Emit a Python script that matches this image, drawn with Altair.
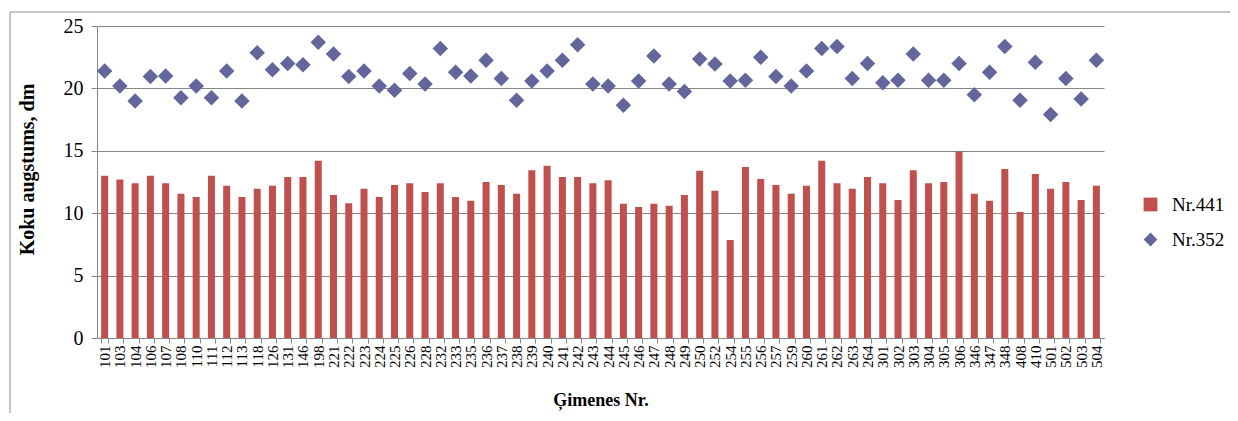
import altair as alt
import pandas as pd

families = ["101", "103", "104", "106", "107", "108", "110", "111", "112", "113",
            "118", "126", "131", "146", "198", "221", "222", "223", "224", "225",
            "226", "228", "232", "233", "235", "236", "237", "238", "239", "240",
            "241", "242", "243", "244", "245", "246", "247", "248", "249", "250",
            "252", "254", "255", "256", "257", "259", "260", "261", "262", "263",
            "264", "301", "302", "303", "304", "305", "306", "346", "347", "348",
            "408", "410", "501", "502", "503", "504"]

nr441 = [13.0, 12.7, 12.4, 13.0, 12.4, 11.55, 11.3, 13.0, 12.2, 11.3,
         11.95, 12.2, 12.9, 12.9, 14.2, 11.45, 10.8, 11.95, 11.3, 12.25,
         12.4, 11.7, 12.4, 11.3, 11.0, 12.5, 12.25, 11.55, 13.45, 13.8,
         12.9, 12.9, 12.4, 12.65, 10.75, 10.5, 10.75, 10.6, 11.45, 13.4,
         11.8, 7.85, 13.7, 12.75, 12.25, 11.55, 12.2, 14.2, 12.4, 11.95,
         12.9, 12.4, 11.05, 13.45, 12.4, 12.5, 14.95, 11.55, 11.0, 13.55,
         10.1, 13.15, 11.95, 12.5, 11.05, 12.2]

nr352 = [21.4, 20.2, 19.0, 20.95, 21.0, 19.25, 20.2, 19.25, 21.4, 19.0,
         22.85, 21.5, 22.0, 21.9, 23.7, 22.75, 20.95, 21.4, 20.2, 19.85,
         21.2, 20.35, 23.2, 21.3, 21.0, 22.25, 20.8, 19.05, 20.6, 21.4,
         22.25, 23.5, 20.35, 20.2, 18.65, 20.6, 22.6, 20.35, 19.75, 22.35,
         21.95, 20.6, 20.65, 22.5, 20.95, 20.2, 21.4, 23.2, 23.35, 20.8,
         22.0, 20.45, 20.65, 22.75, 20.65, 20.65, 22.0, 19.5, 21.3, 23.35,
         19.05, 22.1, 17.9, 20.8, 19.15, 22.25]

series_names = ["Nr.441", "Nr.352"]

FONT = "Liberation Serif"
GREY = "#868686"

df_bar = pd.DataFrame({"fam": families, "series": series_names[0], "value": nr441})
df_pt = pd.DataFrame({"fam": families, "series": series_names[1], "value": nr352})

x_enc = alt.X(
    "fam:N", sort=families, title="Ģimenes Nr.",
    scale=alt.Scale(paddingInner=0.54, paddingOuter=0.27),
    axis=alt.Axis(labelAngle=-90, labelFontSize=15, labelPadding=2, tickSize=5,
                  tickBand="extent", grid=False, domainColor=GREY, tickColor=GREY,
                  titleFontSize=18, titleFontWeight="bold", titleY=53),
)
y_enc = alt.Y(
    "value:Q", title="Koku augstums, dm",
    scale=alt.Scale(domain=[0, 25]),
    axis=alt.Axis(values=[0, 5, 10, 15, 20, 25], labelFontSize=20, labelPadding=8,
                  tickSize=6, grid=True, gridColor=GREY, domainColor=GREY, tickColor=GREY,
                  titleFontSize=20, titleFontWeight="bold", titleX=-60, titleY=143),
)

legend = alt.Legend(orient="none", legendX=1044, legendY=169, labelFontSize=19,
                    labelFont=FONT, symbolSize=190, rowPadding=15, labelOffset=12,
                    padding=0, symbolStrokeWidth=0)
color_enc = alt.Color("series:N", title=None,
                      scale=alt.Scale(domain=series_names, range=["#C0504D", "#63669C"]),
                      legend=legend)
shape_enc = alt.Shape("series:N", title=None,
                      scale=alt.Scale(domain=series_names, range=["square", "diamond"]),
                      legend=legend)

bars = alt.Chart(df_bar).mark_bar().encode(x=x_enc, y=y_enc, color=color_enc)
points = alt.Chart(df_pt).mark_point(filled=True, size=240, opacity=1).encode(
    x=x_enc, y=y_enc, color=color_enc, shape=shape_enc)

frame_df = pd.DataFrame({"k": [0]})
frame_top = alt.Chart(frame_df).mark_rule(color="#8c8c8c", strokeWidth=1).encode(
    x=alt.value(-87), x2=alt.value(1200), y=alt.value(-14))
frame_left = alt.Chart(frame_df).mark_rule(color="#8c8c8c", strokeWidth=1).encode(
    x=alt.value(-87), y=alt.value(-14), y2=alt.value(420))

chart = alt.layer(bars, points, frame_top, frame_left).properties(
    width=1007, height=312,
    autosize=alt.AutoSizeParams(type="none"),
    padding={"left": 89, "top": 18, "right": 126, "bottom": 75},
).configure_view(strokeWidth=0).configure_axis(
    labelFont=FONT, titleFont=FONT, labelColor="black", titleColor="black"
).configure_legend(labelColor="black")

chart.save("out.html", embed_options={"renderer": "svg", "actions": False})
